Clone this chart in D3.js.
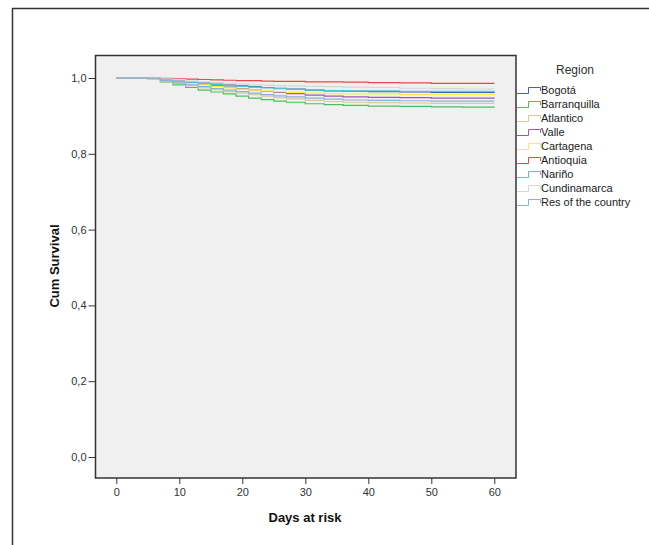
<!DOCTYPE html>
<html>
<head>
<meta charset="utf-8">
<script src="https://cdn.jsdelivr.net/npm/d3@7"></script>
<style>
  body { margin: 0; background: #fff; }
  svg text { font-family: "Liberation Sans", Arial, sans-serif; }
</style>
</head>
<body>
<script>
// days where the survival values were read
var days = [0, 5, 7, 9, 11, 13, 15, 17, 19, 21, 23, 25, 27, 30, 33, 36, 40, 45, 50, 55, 60];

var regions = ["Bogotá", "Barranquilla", "Atlantico", "Valle", "Cartagena", "Antioquia", "Nariño", "Cundinamarca", "Res of the country"];
var colors = ["#4a5fb4", "#47c25a", "#d4cc99", "#a05aac", "#f5f050", "#e84848", "#48c8cc", "#d6d6d6", "#8ab0dc"];

var bogota = [1, 0.999, 0.996, 0.993, 0.990, 0.987, 0.984, 0.981, 0.979, 0.977, 0.975, 0.973, 0.971, 0.968, 0.966, 0.965, 0.964, 0.963, 0.962, 0.962, 0.961];
var barranquilla = [1, 0.998, 0.990, 0.982, 0.975, 0.968, 0.963, 0.958, 0.952, 0.947, 0.943, 0.939, 0.936, 0.932, 0.930, 0.928, 0.926, 0.925, 0.924, 0.923, 0.922];
var atlantico = [1, 0.998, 0.992, 0.985, 0.979, 0.974, 0.969, 0.964, 0.960, 0.956, 0.952, 0.948, 0.945, 0.941, 0.938, 0.936, 0.935, 0.934, 0.933, 0.933, 0.933];
var valle = [1, 0.999, 0.996, 0.992, 0.988, 0.984, 0.980, 0.976, 0.972, 0.968, 0.965, 0.962, 0.959, 0.955, 0.952, 0.950, 0.949, 0.948, 0.947, 0.947, 0.946];
var cartagena = [1, 0.999, 0.995, 0.990, 0.986, 0.982, 0.978, 0.974, 0.971, 0.968, 0.966, 0.964, 0.962, 0.960, 0.959, 0.958, 0.958, 0.957, 0.957, 0.957, 0.956];
var antioquia = [1, 1, 0.999, 0.998, 0.997, 0.996, 0.995, 0.994, 0.993, 0.993, 0.992, 0.991, 0.991, 0.990, 0.990, 0.989, 0.988, 0.987, 0.986, 0.986, 0.986];
var narino = [1, 0.999, 0.996, 0.992, 0.989, 0.986, 0.983, 0.980, 0.978, 0.976, 0.974, 0.972, 0.970, 0.968, 0.967, 0.966, 0.966, 0.965, 0.965, 0.965, 0.965];
var cundinamarca = [1, 1, 0.998, 0.995, 0.992, 0.990, 0.988, 0.986, 0.984, 0.982, 0.981, 0.980, 0.979, 0.978, 0.977, 0.976, 0.975, 0.973, 0.972, 0.971, 0.971];
var restCountry = [1, 0.998, 0.993, 0.987, 0.982, 0.977, 0.972, 0.968, 0.964, 0.960, 0.956, 0.953, 0.950, 0.947, 0.944, 0.942, 0.941, 0.940, 0.939, 0.939, 0.939];

var seriesValues = [bogota, barranquilla, atlantico, valle, cartagena, antioquia, narino, cundinamarca, restCountry];

var xTicks = [0, 10, 20, 30, 40, 50, 60];
var yTicks = [0, 0.2, 0.4, 0.6, 0.8, 1.0];

var width = 649, height = 545;

var svg = d3.select("body")
    .append("svg")
    .attr("width", width)
    .attr("height", height);

// outer frame (cut off on right and bottom)
svg.append("path")
    .attr("d", "M12.5,545 V8.5 H649")
    .attr("fill", "none")
    .attr("stroke", "#333")
    .attr("stroke-width", 1.5);

var plot = {left: 95.5, right: 516, top: 55.5, bottom: 478};

svg.append("rect")
    .attr("x", plot.left)
    .attr("y", plot.top)
    .attr("width", plot.right - plot.left)
    .attr("height", plot.bottom - plot.top)
    .attr("fill", "#f0f0f0")
    .attr("stroke", "none");

var x = d3.scaleLinear().domain([0, 60]).range([116.3, 494.3]);
var y = d3.scaleLinear().domain([0, 1]).range([457, 78]);

var fmt = function(d){ return d3.format(".1f")(d).replace(".", ","); };

// x axis
var xAxis = svg.append("g")
    .attr("transform", "translate(0," + plot.bottom + ")")
    .call(d3.axisBottom(x).tickValues(xTicks).tickSize(6).tickPadding(4).tickSizeOuter(0));
xAxis.select(".domain").remove();
xAxis.selectAll("line").attr("stroke", "#333");
xAxis.selectAll("text").attr("fill", "#333").style("font-size", "11px");

// y axis
var yAxis = svg.append("g")
    .attr("transform", "translate(" + plot.left + ",0)")
    .call(d3.axisLeft(y).tickValues(yTicks).tickFormat(fmt).tickSize(7).tickPadding(2).tickSizeOuter(0));
yAxis.select(".domain").remove();
yAxis.selectAll("line").attr("stroke", "#333");
yAxis.selectAll("text").attr("fill", "#333").style("font-size", "11px");

// plot border
svg.append("rect")
    .attr("x", plot.left)
    .attr("y", plot.top)
    .attr("width", plot.right - plot.left)
    .attr("height", plot.bottom - plot.top)
    .attr("fill", "none")
    .attr("stroke", "#333")
    .attr("stroke-width", 1.5);

// survival curves
var line = d3.line()
    .x(function(d, i){ return x(days[i]); })
    .y(function(d){ return y(d); })
    .curve(d3.curveStepAfter);

svg.selectAll(".curve")
    .data(seriesValues)
    .enter()
    .append("path")
    .attr("class", "curve")
    .attr("d", line)
    .attr("fill", "none")
    .attr("stroke", function(d, i){ return colors[i]; })
    .attr("stroke-width", 1.2);

// axis titles
svg.append("text")
    .attr("x", 305)
    .attr("y", 522)
    .attr("text-anchor", "middle")
    .style("font-size", "13px")
    .style("font-weight", "bold")
    .attr("fill", "#111")
    .text("Days at risk");

svg.append("text")
    .attr("transform", "translate(59,266) rotate(-90)")
    .attr("text-anchor", "middle")
    .style("font-size", "13px")
    .style("font-weight", "bold")
    .attr("fill", "#111")
    .text("Cum Survival");

// legend
svg.append("text")
    .attr("x", 575)
    .attr("y", 74)
    .attr("text-anchor", "middle")
    .style("font-size", "12px")
    .attr("fill", "#333")
    .text("Region");

var legend = svg.selectAll(".legendItem")
    .data(regions)
    .enter()
    .append("g")
    .attr("class", "legendItem")
    .attr("transform", function(d, i){ return "translate(0," + (90 + i * 14) + ")"; });

legend.append("path")
    .attr("d", "M517,3.5 H528.5 V-2.5 H540.5 V1")
    .attr("fill", "none")
    .attr("stroke", function(d, i){ return colors[i]; })
    .attr("stroke-width", 1);

legend.append("text")
    .attr("x", 541)
    .attr("y", 4)
    .style("font-size", "11px")
    .attr("fill", "#222")
    .text(function(d){ return d; });
</script>
</body>
</html>
